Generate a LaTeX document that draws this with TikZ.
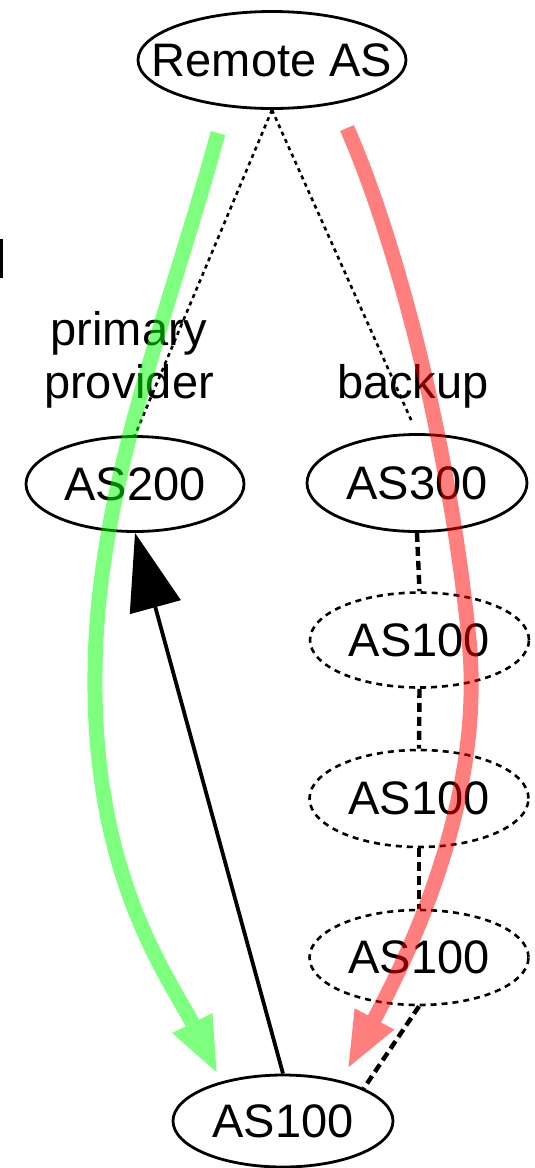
\documentclass[tikz,border=0pt]{standalone}
\usepackage{fontspec}
\setmainfont{Liberation Sans}
\usetikzlibrary{arrows.meta,shapes.geometric}
\definecolor{pathgreen}{RGB}{0,255,0}
\definecolor{pathred}{RGB}{255,0,0}
% label text in a zero-width box so the ellipse size comes from the minimum sizes only
\newcommand{\astext}[1]{\makebox[0pt][c]{#1}}
\begin{document}
\begin{tikzpicture}[x=1pt,y=-1pt,
  every node/.style={font=\fontsize{47}{53}\selectfont},
  asnode/.style={ellipse, draw, line width=2.8pt, inner sep=0pt},
  ghost/.style={asnode, line width=2.6pt, dash pattern=on 6pt off 5pt},
  peering/.style={line width=2.6pt, dash pattern=on 4pt off 4pt},
  chain/.style={line width=4.4pt, dash pattern=on 9pt off 5pt},
  announce/.style={line width=3.8pt, -{Triangle[length=77pt,width=52pt]}},
  flow/.style={line width=15pt, -{Triangle[length=58pt,width=40pt]}},
  lbl/.style={align=center, inner sep=0pt}
]
\fill[white] (0,0) rectangle (535,1168);
\useasboundingbox (0,0) rectangle (535,1168);

% autonomous systems
\node[asnode, minimum width=268pt, minimum height=97pt] (remote) at (272,60) {\astext{Remote AS}};
\node[asnode, minimum width=218pt, minimum height=95pt] (as200) at (135,484) {\astext{AS200}};
\node[asnode, minimum width=220pt, minimum height=97pt] (as300) at (417,483) {\astext{AS300}};
\node[ghost, minimum width=219pt, minimum height=95pt] (d1) at (419.5,640) {\astext{AS100}};
\node[ghost, minimum width=219pt, minimum height=97pt] (d2) at (419,798.5) {\astext{AS100}};
\node[ghost, minimum width=219pt, minimum height=95pt] (d3) at (419,957.5) {\astext{AS100}};
\node[asnode, minimum width=220pt, minimum height=92pt] (b100) at (283,1121) {\astext{AS100}};

% provider links
\draw[peering] (remote.south) -- (as200.north);
\draw[peering, shorten >=14pt] (remote.south) -- (as300.north);
\node[lbl, anchor=base] (lprimary) at (129,398) {primary\\provider};
\node[lbl, anchor=base] (lbackup) at (413,398) {backup};

% prepended path towards the backup provider
\draw[chain] (as300.south) -- (d1.north);
\draw[chain] (d1.south) -- (d2.north);
\draw[chain] (d2.south) -- (d3.north);
\draw[chain] (d3.south) -- (b100.22);

% announcement to the primary provider
\draw[announce] (b100.north) -- (as200.south);

% edge of a clipped glyph at the left border
\fill (0,239) rectangle (2.6,278);

% traffic paths
\coordinate (gstart) at (218,133);
\coordinate (gmid) at (96,640);
\coordinate (gend) at (218,1075);
\coordinate (rstart) at (347,128);
\coordinate (rmid) at (469,640);
\coordinate (rend) at (347,1070);
\begin{scope}[transparency group, opacity=0.5]
\draw[flow, pathgreen] (gstart) .. controls (172,303) and (104.5,470) .. (gmid)
  .. controls (84.5,870) and (169,976) .. (gend);
\end{scope}
\begin{scope}[transparency group, opacity=0.5]
\draw[flow, pathred] (rstart) .. controls (395.4,238) and (449,440) .. (rmid)
  .. controls (484,790) and (418,938) .. (rend);
\end{scope}
\end{tikzpicture}
\end{document}
